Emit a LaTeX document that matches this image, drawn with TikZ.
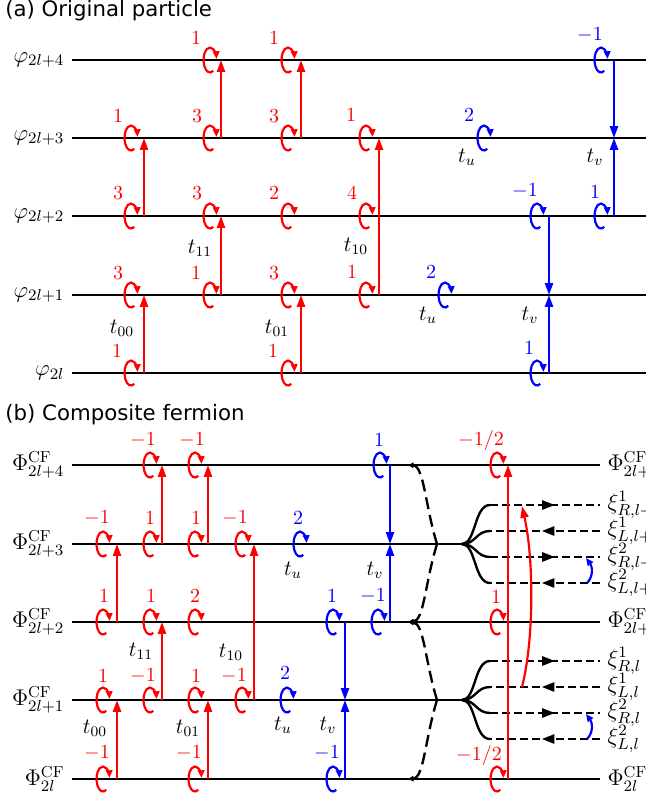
\RequirePackage{fix-cm}
\documentclass[tikz,border=0pt]{standalone}
\usepackage{fontspec}
\newfontfamily\panelfont{DejaVu Sans}
\usetikzlibrary{arrows.meta, decorations.markings}

\begin{document}
\begin{tikzpicture}[
    x=0.55pt, y=-0.55pt,
    lvline/.style={line width=1.5pt},
    hop/.style={line width=1.2pt, -{Triangle[length=6.5pt, width=4.4pt]}},
    spin/.style={line width=1.2pt, -{Triangle[length=4.2pt, width=3.6pt]}},
    num/.style={inner sep=0pt, font=\fontsize{11}{13}\selectfont},
    amp/.style={inner sep=0pt, font=\fontsize{12}{14}\selectfont},
    lvl/.style={inner xsep=4pt, inner ysep=0pt, font=\fontsize{12.5}{15}\selectfont},
    paneltitle/.style={anchor=base west, inner sep=0pt, font=\panelfont\fontsize{11.7}{14}\selectfont},
    exch/.style={line width=1.3pt, dash pattern=on 6.6pt off 3.3pt, -{Triangle[length=3pt, width=3pt]}},
    branch/.style={line width=1.3pt},
    chiral/.style={line width=1.3pt, dash pattern=on 4.4pt off 2.2pt, postaction={decorate},
        decoration={markings, mark=at position #1 with {\arrow{Triangle[length=7pt, width=5pt]}}}}
]
    \useasboundingbox (0,0) rectangle (646,799);

    % --- (a) ORIGINAL PARTICLE ---
    \node[paneltitle] (ta) at (5,17) {(a) Original particle};
    \foreach \k/\y/\s in {0/373/{2l}, 1/295/{2l+1}, 2/216/{2l+2}, 3/138/{2l+3}, 4/60/{2l+4}} {
        \node[lvl, anchor=east] (a\k) at (72,\y) {$\varphi_{\s}$};
        \coordinate (ae\k) at (646,\y);
        \draw[lvline] (a\k.east) -- (ae\k);
    }

    % hoppings
    \foreach \x/\i/\f in {144/2/3, 144/0/1, 221/3/4, 221/1/2, 301/3/4, 301/0/1, 379/1/3}
        \draw[hop, red] (\x,0 |- a\i) -- (\x,0 |- a\f);
    \foreach \x/\i/\f in {614/4/3, 614/2/3, 549/2/1, 549/0/1}
        \draw[hop, blue] (\x,0 |- a\i) -- (\x,0 |- a\f);

    % phase windings
    \foreach \x/\k in {131/0, 131/1, 131/2, 131/3, 210/1, 210/2, 210/3, 210/4,
                      288/0, 288/1, 288/2, 288/3, 288/4, 366/1, 366/2, 366/3}
        \draw[spin, red] (\x,0 |- a\k) ++(60:6.5 and 12.5)
            arc[start angle=60, end angle=355, x radius=6.5, y radius=12.5];
    \foreach \x/\k in {445/1, 484/3, 537/0, 537/2, 601/2, 601/4}
        \draw[spin, blue] (\x,0 |- a\k) ++(60:6.5 and 12.5)
            arc[start angle=60, end angle=355, x radius=6.5, y radius=12.5];

    % winding numbers
    \foreach \x/\y/\n in {196/38/1, 274/38/1, 118/116/1, 197/116/3, 274/116/3, 351/115/1,
                          118/193/3, 197/193/3, 274/193/2, 352/193/4, 118/273/3, 196/273/1,
                          274/273/3, 352/272/1, 117/351/1, 273/351/1}
        \node[num, red] (na-\x-\y) at (\x,\y) {$\n$};
    \foreach \x/\y/\n in {590/35/-1, 469/115/2, 525/191/-1, 595/192/1, 431/272/2, 529/348/1}
        \node[num, blue] (na-\x-\y) at (\x,\y) {$\n$};
    \foreach \x/\y/\n in {467/157/u, 595/157/v, 200/248/{11}, 356/246/{10},
                          122/328/{00}, 277/328/{01}, 428/315/u, 530/315/v}
        \node[amp] (ha-\x-\y) at (\x,\y) {$t_{\n}$};

    % --- (b) COMPOSITE FERMION ---
    \node[paneltitle] (tb) at (5,420) {(b) Composite fermion};
    \foreach \k/\y/\s in {0/779/{2l}, 2/622/{2l+2}, 4/465/{2l+4}} {
        \node[lvl, anchor=east] (b\k) at (72,\y) {$\Phi^{\mathrm{CF}}_{\s}$};
        \node[lvl, anchor=west] (be\k) at (600,\y) {$\Phi^{\mathrm{CF}}_{\s}$};
        \draw[lvline] (b\k.east) -- (be\k.west);
    }
    \foreach \k/\y/\s in {1/700/{2l+1}, 3/544/{2l+3}} {
        \node[lvl, anchor=east] (b\k) at (72,\y) {$\Phi^{\mathrm{CF}}_{\s}$};
        \coordinate (j\k) at (437,\y);
        \coordinate (f\k) at (462,\y);
        \draw[lvline] (b\k.east) -- (f\k);
    }

    % edge splitting
    \foreach \k/\m/\y in {3/{l+1}/544, 1/l/700} {
        \node[lvl, anchor=west] (xR1\k) at (600,\y-39) {$\xi^1_{R,\m}$};
        \node[lvl, anchor=west] (xL1\k) at (600,\y-13) {$\xi^1_{L,\m}$};
        \node[lvl, anchor=west] (xR2\k) at (600,\y+13) {$\xi^2_{R,\m}$};
        \node[lvl, anchor=west] (xL2\k) at (600,\y+39) {$\xi^2_{L,\m}$};
        \coordinate (eR1\k) at (490,\y-39);
        \coordinate (eL1\k) at (490,\y-13);
        \coordinate (eR2\k) at (490,\y+13);
        \coordinate (eL2\k) at (490,\y+39);
        \draw[branch] (f\k) .. controls +(14,0) and +(-16,0) .. (eR1\k);
        \draw[branch] (f\k) .. controls +(14,0) and +(-14,0) .. (eL1\k);
        \draw[branch] (f\k) .. controls +(14,0) and +(-14,0) .. (eR2\k);
        \draw[branch] (f\k) .. controls +(14,0) and +(-16,0) .. (eL2\k);
        \draw[chiral=0.59] (eR1\k) -- (xR1\k.west);
        \draw[chiral=0.53] (xL1\k.west) -- (eL1\k);
        \draw[chiral=0.59] (eR2\k) -- (xR2\k.west);
        \draw[chiral=0.53] (xL2\k.west) -- (eL2\k);
    }

    % level exchange
    \coordinate (s4) at (408,465);
    \coordinate (s2) at (408,622);
    \coordinate (s0) at (408,779);
    \draw[exch] (j3) .. controls (425,505) and (424,466) .. (s4);
    \draw[exch] (j3) .. controls (425,583) and (424,621) .. (s2);
    \draw[exch] (j1) .. controls (425,661) and (424,623) .. (s2);
    \draw[exch] (j1) .. controls (425,739) and (424,778) .. (s0);

    % hoppings
    \foreach \x/\i/\f in {117/2/3, 117/0/1, 162/3/4, 162/1/2, 208/3/4, 208/0/1, 254/1/3, 508/0/4}
        \draw[hop, red] (\x,0 |- b\i) -- (\x,0 |- b\f);
    \foreach \x/\i/\f in {390/4/3, 390/2/3, 345/2/1, 345/0/1}
        \draw[hop, blue] (\x,0 |- b\i) -- (\x,0 |- b\f);

    % edge tunnelling
    \coordinate (rf) at (522,687);
    \coordinate (rt) at (522,506);
    \draw[hop, red] (rf) .. controls (534,640) and (534,560) .. (rt);
    \foreach \k/\y in {3/544, 1/700} {
        \coordinate (uf\k) at (587,\y+39);
        \coordinate (ut\k) at (586,\y+14);
        \draw[spin, blue] (uf\k) .. controls +(7,-7) and +(6,8) .. (ut\k);
    }

    % phase windings
    \foreach \x/\k in {150/4, 195/4, 497/4, 103/3, 150/3, 195/3, 242/3, 103/2, 150/2, 195/2,
                      497/2, 103/1, 150/1, 195/1, 242/1, 103/0, 195/0, 497/0}
        \draw[spin, red] (\x,0 |- b\k) ++(60:6.5 and 12.5)
            arc[start angle=60, end angle=355, x radius=6.5, y radius=12.5];
    \foreach \x/\k in {380/4, 300/3, 333/2, 378/2, 287/1, 333/0}
        \draw[spin, blue] (\x,0 |- b\k) ++(60:6.5 and 12.5)
            arc[start angle=60, end angle=355, x radius=6.5, y radius=12.5];

    % winding numbers
    \foreach \x/\y/\n in {143/440/-1, 192/440/-1, 481/440/{-1/2}, 97/518/-1, 150/518/1, 196/518/1,
                          235/518/-1, 104/596/1, 151/596/1, 195/596/2, 496/597/1, 103/676/1,
                          143/676/-1, 196/676/1, 234/676/-1, 97/753/-1, 189/753/-1, 479/755/{-1/2}}
        \node[num, red] (nb-\x-\y) at (\x,\y) {$\n$};
    \foreach \x/\y/\n in {379/440/1, 298/518/2, 332/596/1, 373/596/-1, 285/673/2, 327/753/-1}
        \node[num, blue] (nb-\x-\y) at (\x,\y) {$\n$};
    \foreach \x/\y/\n in {293/570/u, 375/570/v, 141/651/{11}, 231/652/{10},
                          95/728/{00}, 188/728/{01}, 283/725/u, 328/725/v}
        \node[amp] (hb-\x-\y) at (\x,\y) {$t_{\n}$};
\end{tikzpicture}
\end{document}
